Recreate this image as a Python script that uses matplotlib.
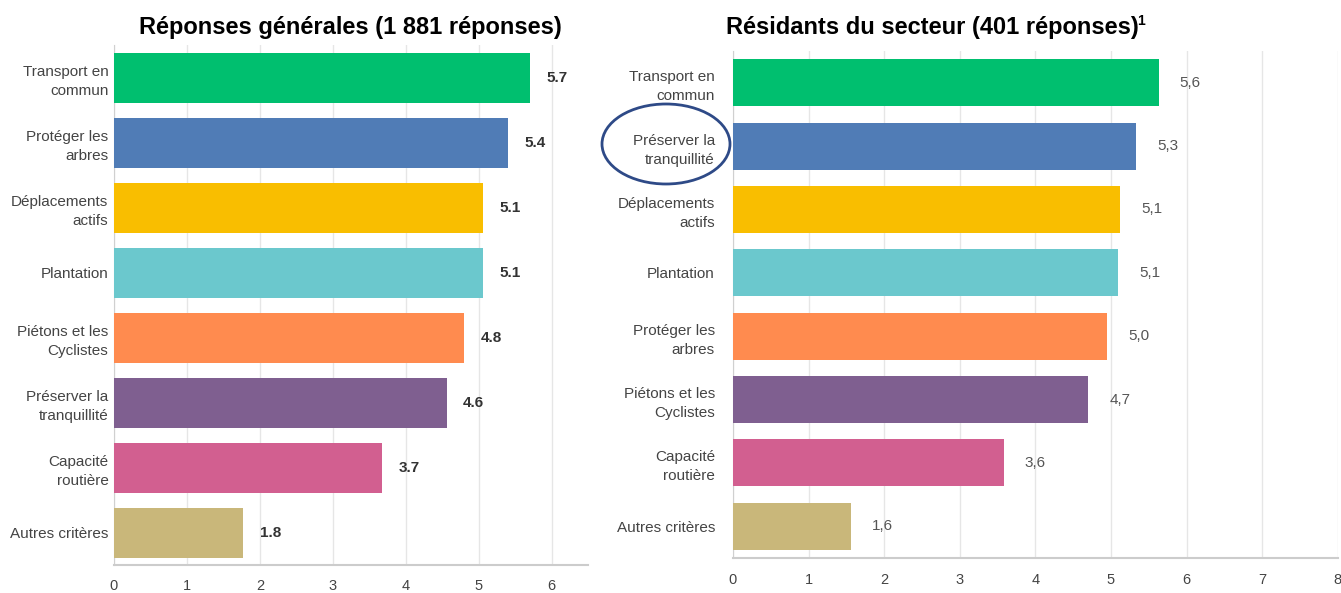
import matplotlib.pyplot as plt
from matplotlib.patches import Ellipse

# Left chart: general answers
cats_left = ["Transport en\ncommun", "Protéger les\narbres", "Déplacements\nactifs", "Plantation",
             "Piétons et les\nCyclistes", "Préserver la\ntranquillité", "Capacité\nroutière", "Autres critères"]
vals_left = [5.70, 5.40, 5.06, 5.06, 4.80, 4.56, 3.67, 1.77]

# Right chart: sector residents
cats_right = ["Transport en\ncommun", "Préserver la\ntranquillité", "Déplacements\nactifs", "Plantation",
              "Protéger les\narbres", "Piétons et les\nCyclistes", "Capacité\nroutière", "Autres critères"]
vals_right = [5.63, 5.33, 5.12, 5.09, 4.95, 4.70, 3.58, 1.56]

colors = ["#00BF6F", "#507CB6", "#F9BE00", "#6BC8CD", "#FF8B4F", "#7F5F90", "#D25F90", "#C9B77A"]

plt.rcParams['font.family'] = ['Liberation Sans', 'DejaVu Sans']

fig = plt.figure(figsize=(13.41, 5.93), dpi=100)
ax1 = fig.add_axes([0.085, 0.047, 0.3535, 0.877])
ax2 = fig.add_axes([0.5466, 0.059, 0.451, 0.855])


def draw(ax, cats, vals, xmax, fmt, bold, height, ypad, xpad):
    y = list(range(len(cats)))
    ax.barh(y, vals, height=height, color=colors, zorder=3)
    ax.set_ylim(len(cats) - 0.5, -0.5)
    ax.set_xlim(0, xmax)
    ax.set_yticks(y)
    ax.set_yticklabels(cats, fontsize=11, color="#444444", linespacing=1.45)
    ax.set_xticks(range(0, int(xmax) + 1))
    ax.tick_params(axis="x", labelsize=10.5, labelcolor="#444444", length=0, pad=xpad)
    ax.tick_params(axis="y", length=0, pad=ypad)
    ax.grid(axis="x", color="#e6e6e6", linewidth=1, zorder=0)
    for s in ["top", "right"]:
        ax.spines[s].set_visible(False)
    ax.spines["left"].set_color("#d0d0d0")
    ax.spines["bottom"].set_color("#cccccc")
    ax.spines["bottom"].set_linewidth(1.5)
    for yi, v in zip(y, vals):
        ax.text(v + xmax * 0.035, yi, fmt(v), va="center", ha="left", fontsize=11,
                color="#333333" if bold else "#555555", fontweight="bold" if bold else "normal")


draw(ax1, cats_left, vals_left, 6.5, lambda v: f"{v:.1f}", True, 0.77, 4, 10)
draw(ax2, cats_right, vals_right, 8, lambda v: f"{v:.1f}".replace(".", ","), False, 0.74, 13, 11)

fig.text(0.261, 0.953, "Réponses générales (1 881 réponses)", ha="center", va="center",
         fontsize=17, fontweight="bold")
fig.text(726 / 1341, 0.953, "Résidants du secteur (401 réponses)", ha="left", va="center",
         fontsize=17, fontweight="bold")
fig.text(1137 / 1341, 0.965, "1", ha="left", va="center", fontsize=10, fontweight="bold")

# ellipse highlighting "Préserver la tranquillité"
fig.patches.append(Ellipse((666 / 1341, 1 - 144 / 593), 128 / 1341, 80 / 593,
                           transform=fig.transFigure, fill=False, edgecolor="#2E4A87",
                           linewidth=2))

fig.savefig("out.png", dpi=100)
